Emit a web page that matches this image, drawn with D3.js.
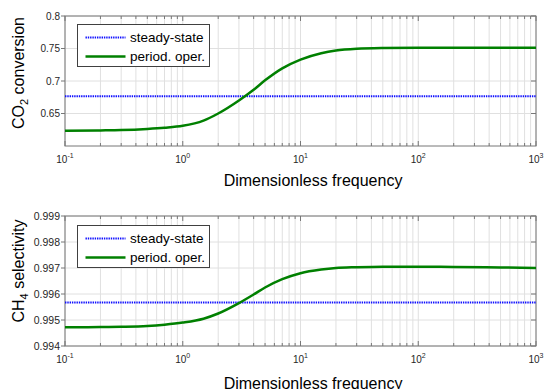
<!DOCTYPE html>
<html>
<head>
<meta charset="utf-8">
<script src="https://cdn.jsdelivr.net/npm/d3@7"></script>
<style>
  body { margin: 0; background: #fff; }
  svg text { font-family: "Liberation Sans", Arial, sans-serif; }
</style>
</head>
<body>
<div id="chart"></div>
<script>
// Data
const freq = [0.1, 0.2, 0.3, 0.5, 0.7, 1, 1.5, 2, 3, 4, 5, 7, 10, 15, 20, 30, 50, 100, 200, 500, 1000];
const co2Periodic = [0.6235, 0.6240, 0.6245, 0.6262, 0.6280, 0.6310, 0.6390, 0.6500, 0.6700, 0.6865,
                     0.7010, 0.7195, 0.7330, 0.7428, 0.7470, 0.7497, 0.7508, 0.7512, 0.7512, 0.7512, 0.7512];
const co2Steady = 0.6765;
const ch4Periodic = [0.99472, 0.99473, 0.99474, 0.99477, 0.99482, 0.99490, 0.99505, 0.99525, 0.99565, 0.99598,
                     0.99625, 0.99657, 0.99680, 0.99694, 0.99700, 0.99703, 0.99705, 0.99705, 0.99704, 0.99702, 0.99700];
const ch4Steady = 0.99567;

const co2Ticks = [0.65, 0.7, 0.75, 0.8];
const ch4Ticks = [0.994, 0.995, 0.996, 0.997, 0.998, 0.999];
const legendLabels = ["steady-state", "period. oper."];

const width = 544, height = 389;
const svg = d3.select("#chart").append("svg")
       .attr("width", width)
       .attr("height", height);

function drawPanel(cfg) {
       const x = d3.scaleLog().domain([0.1, 1000]).range([65, 536]);
       const y = d3.scaleLinear().domain(cfg.yDomain).range([cfg.bottom, cfg.top]);
       const g = svg.append("g");

       // grid (major + minor on x, major on y)
       g.selectAll(".vgrid")
              .data(x.ticks())
              .enter()
              .append("line")
              .attr("x1", d => x(d)).attr("x2", d => x(d))
              .attr("y1", cfg.top).attr("y2", cfg.bottom)
              .attr("stroke", "#e0e0e0")
              .attr("stroke-width", 1);

       g.selectAll(".hgrid")
              .data(cfg.yTicks)
              .enter()
              .append("line")
              .attr("x1", 65).attr("x2", 536)
              .attr("y1", d => y(d)).attr("y2", d => y(d))
              .attr("stroke", "#e0e0e0")
              .attr("stroke-width", 1);

       // x tick marks inside, top and bottom
       const isMajor = d => Math.abs(Math.log10(d) - Math.round(Math.log10(d))) < 1e-9;
       x.ticks().forEach(d => {
              const len = isMajor(d) ? 5 : 3;
              g.append("line")
                     .attr("x1", x(d)).attr("x2", x(d))
                     .attr("y1", cfg.bottom).attr("y2", cfg.bottom - len)
                     .attr("stroke", "#777");
              g.append("line")
                     .attr("x1", x(d)).attr("x2", x(d))
                     .attr("y1", cfg.top).attr("y2", cfg.top + len)
                     .attr("stroke", "#777");
       });

       // y tick marks
       cfg.yTicks.forEach(d => {
              g.append("line")
                     .attr("x1", 61).attr("x2", 65)
                     .attr("y1", y(d)).attr("y2", y(d))
                     .attr("stroke", "#777");
              g.append("line")
                     .attr("x1", 536).attr("x2", 531)
                     .attr("y1", y(d)).attr("y2", y(d))
                     .attr("stroke", "#777");
       });

       // axes box
       g.append("rect")
              .attr("x", 65).attr("y", cfg.top)
              .attr("width", 471).attr("height", cfg.bottom - cfg.top)
              .attr("fill", "none")
              .attr("stroke", "#777")
              .attr("stroke-width", 1);

       // y tick labels
       g.selectAll(".ylab")
              .data(cfg.yTicks)
              .enter()
              .append("text")
              .attr("x", 60)
              .attr("y", d => y(d) + 3.5)
              .attr("text-anchor", "end")
              .attr("font-size", cfg.yFont)
              .attr("fill", "#262626")
              .text(d => d3.format(cfg.yFormat)(d));

       // x tick labels 10^n
       const decades = x.ticks().filter(isMajor);
       decades.forEach(d => {
              const t = g.append("text")
                     .attr("x", x(d))
                     .attr("y", cfg.bottom + 17)
                     .attr("text-anchor", "middle")
                     .attr("font-size", 10)
                     .attr("fill", "#262626");
              t.append("tspan").text("10");
              t.append("tspan")
                     .attr("font-size", 7)
                     .attr("dy", -5)
                     .text(Math.round(Math.log10(d)));
       });

       // series
       const line = d3.line()
              .x((d, i) => x(freq[i]))
              .y(d => y(d))
              .curve(d3.curveMonotoneX);

       g.append("path")
              .attr("d", line(freq.map(() => cfg.steady)))
              .attr("fill", "none")
              .attr("stroke", "#1010ff")
              .attr("stroke-width", 2)
              .attr("stroke-dasharray", "1.4,0.9");

       g.append("path")
              .attr("d", line(cfg.periodic))
              .attr("fill", "none")
              .attr("stroke", "#008000")
              .attr("stroke-width", 2.5);

       // legend
       const lg = g.append("g").attr("transform", `translate(77.5, ${cfg.legendTop})`);
       lg.append("rect")
              .attr("width", 132).attr("height", 42)
              .attr("fill", "#fff")
              .attr("stroke", "#404040")
              .attr("stroke-width", 1);
       const styles = [
              { stroke: "#1010ff", w: 2, dash: "1.4,0.9" },
              { stroke: "#008000", w: 2.5, dash: null }
       ];
       legendLabels.forEach((lab, i) => {
              const yy = 13 + i * 19;
              lg.append("line")
                     .attr("x1", 8).attr("x2", 48)
                     .attr("y1", yy).attr("y2", yy)
                     .attr("stroke", styles[i].stroke)
                     .attr("stroke-width", styles[i].w)
                     .attr("stroke-dasharray", styles[i].dash);
              lg.append("text")
                     .attr("x", 52.5).attr("y", yy + 4.5)
                     .attr("font-size", 13.5)
                     .attr("fill", "#000")
                     .text(lab);
       });

       // axis titles
       const yl = g.append("text")
              .attr("transform", `translate(24, ${cfg.yLabelY}) rotate(-90)`)
              .attr("text-anchor", "middle")
              .attr("font-size", 16)
              .attr("fill", "#000");
       yl.append("tspan").text(cfg.yLabel[0]);
       yl.append("tspan").attr("font-size", 11).attr("dy", 4).text(cfg.yLabel[1]);
       yl.append("tspan").attr("dy", -4).text(cfg.yLabel[2]);

       g.append("text")
              .attr("x", 313).attr("y", cfg.xLabelY)
              .attr("text-anchor", "middle")
              .attr("font-size", 16)
              .attr("fill", "#000")
              .text("Dimensionless frequency");
}

drawPanel({
       top: 16, bottom: 146,
       yDomain: [0.6, 0.8], yTicks: co2Ticks, yFormat: "", yFont: 10,
       periodic: co2Periodic, steady: co2Steady,
       legendTop: 24.5, yLabel: ["CO", "2", " conversion"], yLabelY: 73, xLabelY: 186
});

drawPanel({
       top: 216, bottom: 346,
       yDomain: [0.994, 0.999], yTicks: ch4Ticks, yFormat: ".3f", yFont: 10.5,
       periodic: ch4Periodic, steady: ch4Steady,
       legendTop: 225.5, yLabel: ["CH", "4", " selectivity"], yLabelY: 271, xLabelY: 389
});
</script>
</body>
</html>
